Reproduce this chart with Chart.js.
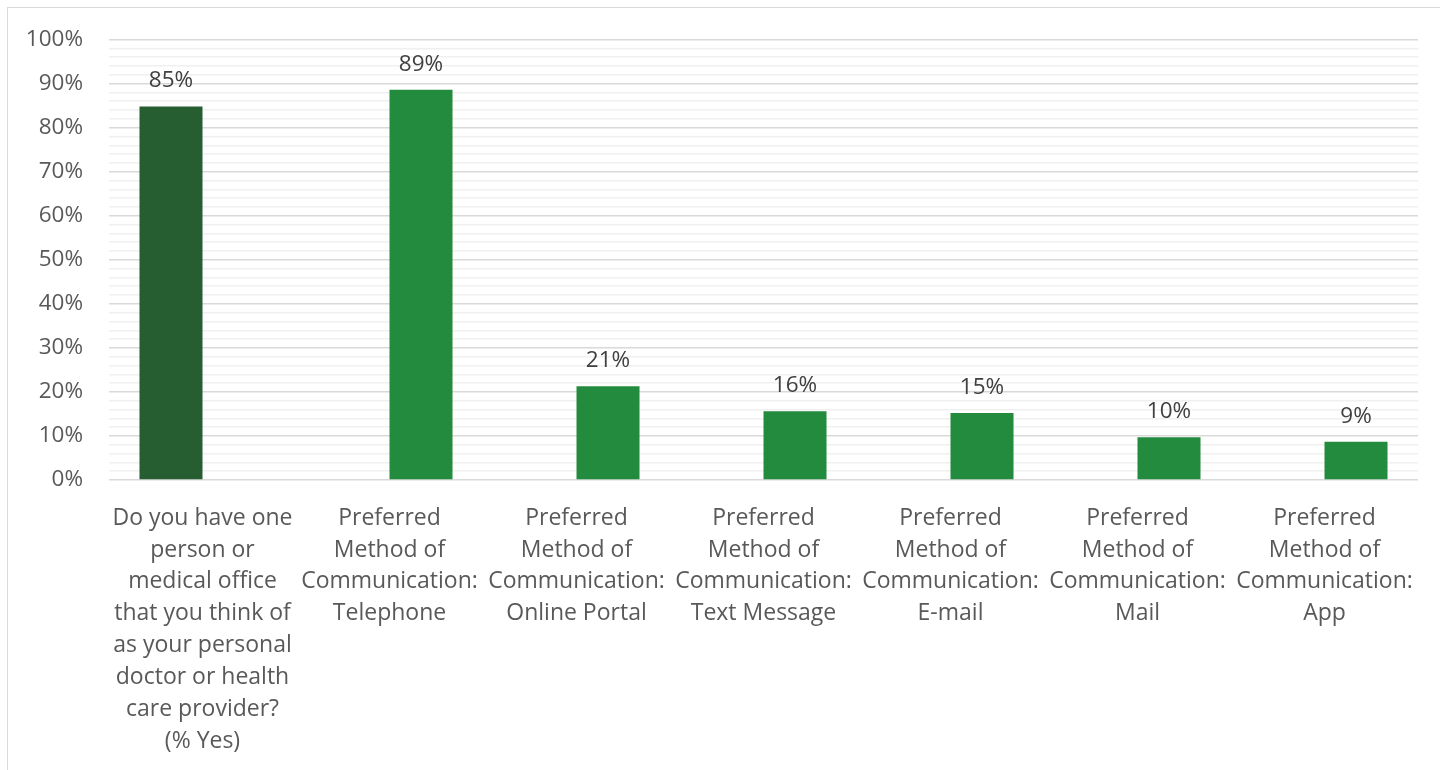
<!DOCTYPE html>
<html>
<head>
<meta charset="utf-8">
<script src="https://cdn.jsdelivr.net/npm/chart.js@4.4.1/dist/chart.umd.min.js"></script>
<style>
  html, body { margin: 0; padding: 0; background: #ffffff; }
  #wrap { position: relative; width: 1440px; height: 770px; overflow: hidden; }
  #frame { position: absolute; left: 7px; top: 7px; right: -2px; bottom: -2px;
           border-left: 1.5px solid #d9d9d9; border-top: 1.5px solid #d9d9d9; }
  #c { position: absolute; left: 0; top: 0; }
</style>
</head>
<body>
<div id="wrap">
  <div id="frame"></div>
  <canvas id="c" width="1440" height="770"></canvas>
</div>
<script>
// Survey categories (multi-line tick labels)
const categories = [
  ["Do you have one", "person or", "medical office", "that you think of", "as your personal", "doctor or health", "care provider?", "(% Yes)"],
  ["Preferred", "Method of", "Communication:", "Telephone"],
  ["Preferred", "Method of", "Communication:", "Online Portal"],
  ["Preferred", "Method of", "Communication:", "Text Message"],
  ["Preferred", "Method of", "Communication:", "E-mail"],
  ["Preferred", "Method of", "Communication:", "Mail"],
  ["Preferred", "Method of", "Communication:", "App"]
];

// Percent values per series (null where a series has no bar)
const personalDoctor = [84.8, null, null, null, null, null, null];
const preferredMethod = [null, 88.6, 21.3, 15.6, 15.2, 9.7, 8.7];

// Y-axis labels shown at each 10% step
const yTickLabels = ["0%", "10%", "20%", "30%", "40%", "50%", "60%", "70%", "80%", "90%", "100%"];

const FONT = "'Open Sans', 'Noto Sans', sans-serif";

// Value labels drawn above each bar
const barValueLabels = {
  id: 'barValueLabels',
  afterDatasetsDraw(chart) {
    const ctx = chart.ctx;
    ctx.save();
    ctx.font = "22.5px " + FONT;
    ctx.fillStyle = "#404040";
    ctx.textAlign = "center";
    ctx.textBaseline = "alphabetic";
    chart.data.datasets.forEach((ds, di) => {
      const meta = chart.getDatasetMeta(di);
      meta.data.forEach((bar, i) => {
        const v = ds.data[i];
        if (v === null || v === undefined) return;
        ctx.fillText(Math.round(v) + "%", bar.x, bar.y - 19);
      });
    });
    ctx.restore();
  }
};

new Chart(document.getElementById('c'), {
  type: 'bar',
  data: {
    labels: categories,
    datasets: [
      { label: 'Personal doctor', data: personalDoctor, backgroundColor: '#265e32',
        categoryPercentage: 0.674, barPercentage: 1.0 },
      { label: 'Preferred method', data: preferredMethod, backgroundColor: '#238b3d',
        categoryPercentage: 0.674, barPercentage: 1.0 }
    ]
  },
  options: {
    responsive: false,
    animation: false,
    events: [],
    layout: { autoPadding: false, padding: { left: 0, right: 22, top: 36, bottom: 0 } },
    plugins: { legend: { display: false }, tooltip: { enabled: false } },
    scales: {
      x: {
        grid: { display: false },
        border: { display: false },
        ticks: {
          color: '#595959',
          font: { family: FONT, size: 23, lineHeight: 1.39 },
          padding: 14,
          maxRotation: 0,
          autoSkip: false
        },
        afterFit(scale) { scale.height = 290; }
      },
      y: {
        min: 0,
        max: 100,
        border: { display: false },
        grid: {
          drawTicks: false,
          color: (c) => (c.tick && c.tick.value % 10 === 0) ? '#d9d9d9' : '#f0f0f0',
          lineWidth: (c) => (c.tick && c.tick.value % 10 === 0) ? 1.6 : 1.4
        },
        ticks: {
          stepSize: 2,
          autoSkip: false,
          padding: 26,
          color: '#595959',
          font: { family: FONT, size: 22.5 },
          callback: (v) => (v % 10 === 0) ? yTickLabels[v / 10] : ''
        },
        afterFit(scale) { scale.width = 109; }
      }
    }
  },
  plugins: [barValueLabels]
});
</script>
</body>
</html>
